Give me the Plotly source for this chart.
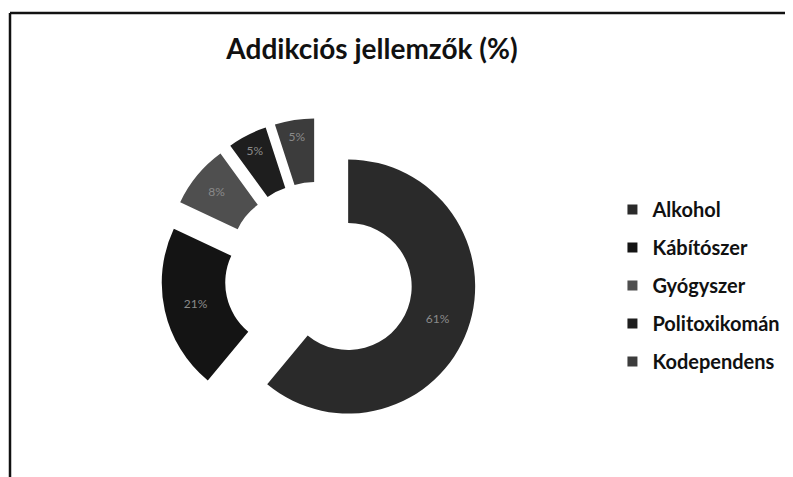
import plotly.graph_objects as go

categories = ["Alkohol", "Kábítószer", "Gyógyszer", "Politoxikomán", "Kodependens"]
values = [61, 21, 8, 5, 5]
colors = ["#2a2a2a", "#141414", "#4f4f4f", "#1e1e1e", "#3c3c3c"]
title_text = "Addikciós jellemzők (%)"

W, H = 785, 469

fig = go.Figure()

fig.add_trace(go.Pie(
    labels=categories,
    values=values,
    hole=0.5,
    sort=False,
    direction="clockwise",
    rotation=0,
    pull=[0.244] * len(values),
    marker=dict(colors=colors, line=dict(width=0)),
    texttemplate="%{value}%",
    textfont=dict(color="#8a8a8a", size=12, family="Lato"),
    insidetextorientation="horizontal",
    showlegend=False,
    domain=dict(x=[153 / W, 469 / W], y=[43 / H, 359 / H]),
))

for i, (cat, col) in enumerate(zip(categories, colors)):
    fig.add_trace(go.Scatter(
        x=[None], y=[None], mode="markers", name=cat,
        marker=dict(symbol="square", size=10, color=col),
        legendgroup=f"g{i}", showlegend=True,
    ))

fig.update_layout(
    width=W, height=H,
    margin=dict(l=0, r=0, t=0, b=0),
    paper_bgcolor="white", plot_bgcolor="white",
    xaxis=dict(visible=False), yaxis=dict(visible=False),
    title=dict(text="<b>" + title_text + "</b>", x=364 / W, xanchor="center",
               y=1 - 41 / H, yanchor="middle",
               font=dict(family="Lato", size=28, color="#111111")),
    legend=dict(x=0.770, y=1 - 182 / H, xanchor="left", yanchor="top",
                font=dict(family="Lato", size=20, color="#111111", weight="bold"),
                tracegroupgap=9, itemwidth=30, bgcolor="rgba(0,0,0,0)"),
    shapes=[
        dict(type="line", xref="paper", yref="paper", x0=2 / W, x1=1, y0=1 - 5 / H, y1=1 - 5 / H,
             line=dict(color="#111111", width=2.5)),
        dict(type="line", xref="paper", yref="paper", x0=2 / W, x1=2 / W, y0=0, y1=1 - 5 / H,
             line=dict(color="#111111", width=2.5)),
    ],
)

fig.write_html("out.html")
